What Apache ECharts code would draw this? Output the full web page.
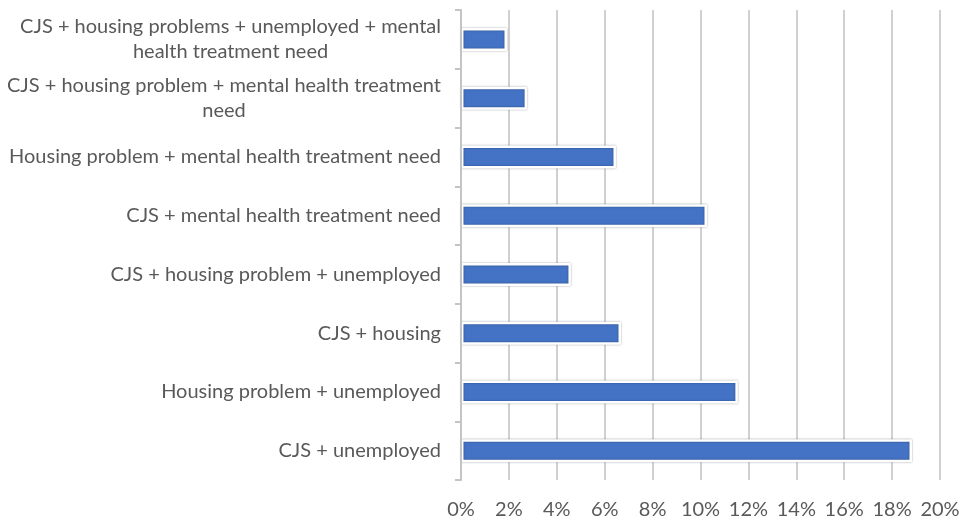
<!DOCTYPE html>
<html>
<head>
<meta charset="utf-8">
<script src="https://cdn.jsdelivr.net/npm/echarts@6/dist/echarts.min.js"></script>
<style>
  html, body { margin: 0; padding: 0; background: #fff; }
  #chart { width: 966px; height: 524px; }
</style>
</head>
<body>
<div id="chart"></div>
<script>
// categories, bottom to top (category axis starts at the bottom)
const categories = [
  'CJS + unemployed',
  'Housing problem + unemployed',
  'CJS + housing',
  'CJS + housing problem + unemployed',
  'CJS + mental health treatment need',
  'Housing problem + mental health treatment need',
  'CJS + housing problem + mental health treatment\nneed',
  'CJS + housing problems + unemployed + mental\nhealth treatment need'
];
// share of people, in percent
const shares = [18.83, 11.56, 6.68, 4.59, 10.27, 6.47, 2.76, 1.92];
const xTicks = [0, 2, 4, 6, 8, 10, 12, 14, 16, 18, 20];

const chart = echarts.init(document.getElementById('chart'));
const labelFont = 'Lato, "Noto Sans", sans-serif';

chart.setOption({
  animation: false,
  grid: { left: 461, right: 26, top: 10, bottom: 44 },
  xAxis: {
    type: 'value',
    min: xTicks[0],
    max: xTicks[xTicks.length - 1],
    interval: 2,
    axisLine: { show: false },
    axisTick: { show: false },
    axisLabel: {
      formatter: '{value}%',
      color: '#595959',
      fontSize: 20,
      fontFamily: labelFont,
      margin: 20
    },
    splitLine: { lineStyle: { color: '#d0d0d0', width: 2 } }
  },
  yAxis: {
    type: 'category',
    data: categories,
    z: 5,
    axisLine: { show: true, lineStyle: { color: '#c4c4c4', width: 2 } },
    axisTick: { show: true, alignWithLabel: false, length: 6, lineStyle: { color: '#c4c4c4', width: 2 } },
    axisLabel: {
      margin: 20,
      color: '#595959',
      fontSize: 20,
      fontFamily: labelFont,
      lineHeight: 25,
      formatter: function (v) { return '{c|' + v + '}'; },
      rich: {
        c: { align: 'center', color: '#595959', fontSize: 20, fontFamily: labelFont, lineHeight: 25 }
      }
    }
  },
  series: [{
    type: 'bar',
    data: shares,
    barWidth: 23,
    itemStyle: {
      color: '#4472C4',
      borderColor: '#ffffff',
      borderWidth: 2.5,
      shadowColor: 'rgba(0,0,0,0.35)',
      shadowBlur: 2
    }
  }]
});
</script>
</body>
</html>
